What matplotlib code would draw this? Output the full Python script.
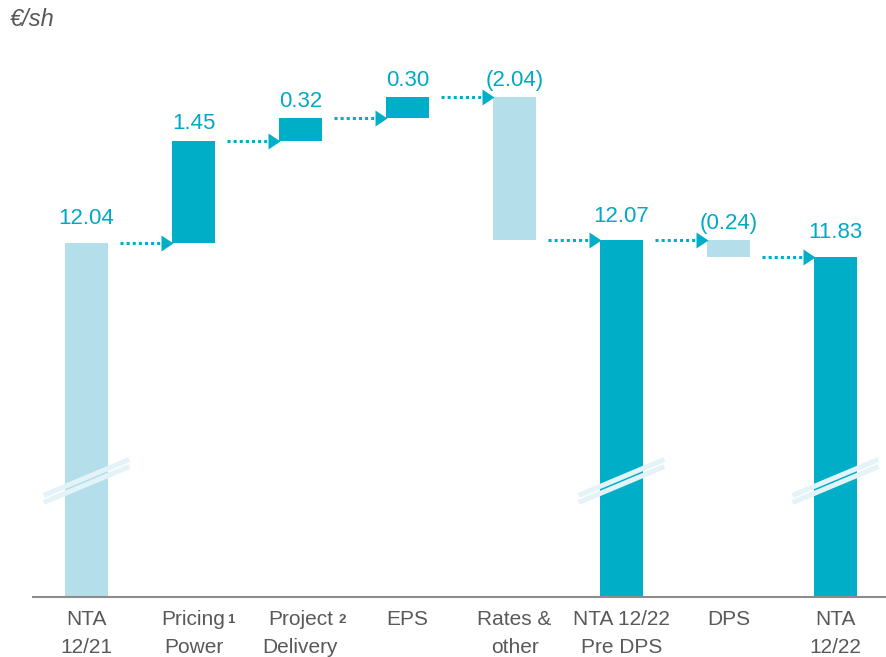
import numpy as np
import matplotlib
matplotlib.use('Agg')
import matplotlib.pyplot as plt
from matplotlib.transforms import blended_transform_factory

plt.rcParams['font.family'] = ['Liberation Sans', 'DejaVu Sans']

# ================= data =================
categories = [('NTA', '12/21'), ('Pricing', 'Power'), ('Project', 'Delivery'), ('EPS', ''),
              ('Rates &', 'other'), ('NTA 12/22', 'Pre DPS'), ('DPS', ''), ('NTA', '12/22')]
footnotes = ['', '1', '2', '', '', '', '', '']
values = [12.04, 1.45, 0.32, 0.30, -2.04, 12.07, -0.24, 11.83]
is_total = [True, False, False, False, False, True, False, True]
unit_label = '€/sh'
# ========================================

DARK = '#00AFC7'
LIGHT = '#B3DEEA'
LABEL_C = '#00A9C4'
GREY_TXT = '#595959'
BREAK_C = '#E3F3F8'
Y_MIN, Y_MAX = 7.0, 14.92
W = 0.40

fig = plt.figure(figsize=(8.87, 6.57), dpi=100)
ax = fig.add_axes([0, 60 / 657, 1, 1 - 100 / 657])

# waterfall bottoms / tops
bottoms, tops = [], []
level = 0.0
for v, tot in zip(values, is_total):
    if tot:
        bottoms.append(0.0)
        tops.append(v)
        level = v
    else:
        lo, hi = sorted([level, level + v])
        bottoms.append(lo)
        tops.append(hi)
        level += v

x = np.arange(len(values))
colors = [LIGHT if (i == 0 or v < 0) else DARK for i, v in enumerate(values)]
ax.bar(x, np.array(tops) - np.array(bottoms), bottom=bottoms, width=W, color=colors, zorder=2)

# value labels (totals sit a bit higher)
for xi, v, top, tot in zip(x, values, tops, is_total):
    txt = f'({abs(v):.2f})' if v < 0 else f'{v:.2f}'
    ax.annotate(txt, (xi, top), xytext=(0, 10 if tot else 4.5), textcoords='offset points',
                ha='center', va='bottom', fontsize=16, color=LABEL_C)

# connector arrows: dotted line + triangle head
levels = []
level = 0.0
for v, tot in zip(values, is_total):
    level = v if tot else level + v
    levels.append(level)
head = [(-0.75, -1), (0.75, 0), (-0.75, 1)]
for i in range(len(values) - 1):
    y = levels[i]
    x0 = x[i] + W / 2 + 0.11
    xh = x[i + 1] - W / 2 - 0.05
    ax.plot([x0, xh - 0.02], [y, y], color=DARK, lw=2.2, ls=(0, (1, 1)),
            dash_capstyle='butt', zorder=3)
    ax.plot([xh], [y], marker=head, ms=11.5, color=DARK, mec='none', zorder=3)

# axis break marks on full bars
for xi, tot in zip(x, is_total):
    if not tot:
        continue
    for yc in (8.70, 8.60):
        ax.plot([xi - 0.40, xi + 0.40], [yc - 0.255, yc + 0.255], color=BREAK_C,
                lw=3.6, solid_capstyle='butt', zorder=4)

ax.set_xlim(-0.808, 7.481)
ax.set_ylim(Y_MIN, Y_MAX)
for s in ax.spines.values():
    s.set_visible(False)
ax.set_xticks([])
ax.set_yticks([])
ax.axhline(Y_MIN, xmin=33 / 887, xmax=1, color='#8C8C8C', lw=1.5, clip_on=False, zorder=5)

# category labels
trans = blended_transform_factory(ax.transData, ax.transAxes)
for xi, (l1, l2), fn in zip(x, categories, footnotes):
    t1 = ax.annotate(l1, (xi, 0), xycoords=trans, xytext=(0, -20.5), textcoords='offset points',
                     ha='center', va='baseline', fontsize=15, color=GREY_TXT)
    if l2:
        ax.annotate(l2, (xi, 0), xycoords=trans, xytext=(0, -40), textcoords='offset points',
                    ha='center', va='baseline', fontsize=15, color=GREY_TXT)
    if fn:
        pad = 1 if l1 == 'Pricing' else 4
        ax.annotate(fn, (1, 0), xycoords=t1, xytext=(pad, 4.5), textcoords='offset points',
                    ha='left', va='baseline', fontsize=9.5, fontweight='bold', color=GREY_TXT)

fig.text(0.011, 1 - 20 / 657, unit_label, ha='left', va='center', fontsize=17,
         style='italic', color=GREY_TXT)

fig.savefig('out.png', dpi=100)
